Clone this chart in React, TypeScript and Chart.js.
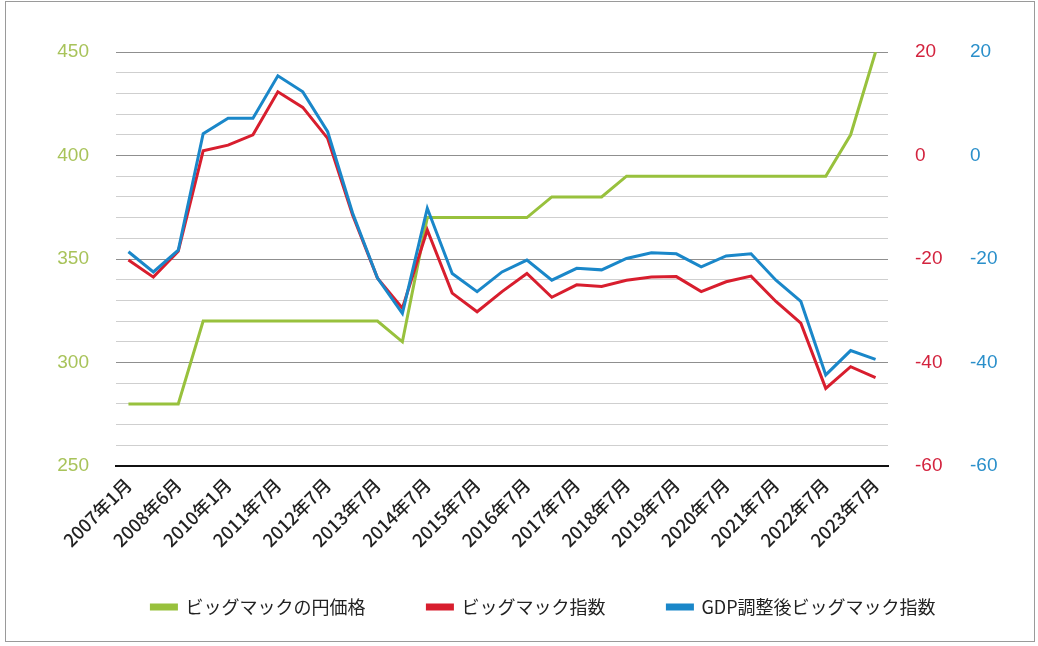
import React, { useEffect, useRef } from "react";
import { Chart, registerables } from "chart.js";

Chart.register(...registerables);

const categories = [
  "2007年1月", "2007年6月", "2008年6月", "2009年7月", "2010年1月", "2010年7月",
  "2011年7月", "2012年1月", "2012年7月", "2013年1月", "2013年7月", "2014年1月",
  "2014年7月", "2015年1月", "2015年7月", "2016年1月", "2016年7月", "2017年1月",
  "2017年7月", "2018年1月", "2018年7月", "2019年1月", "2019年7月", "2020年1月",
  "2020年7月", "2021年1月", "2021年7月", "2022年1月", "2022年7月", "2023年1月",
  "2023年7月",
];

const yenPrice = [
  280, 280, 280, 320, 320, 320, 320, 320, 320, 320, 320, 310, 370, 370, 370, 370,
  370, 380, 380, 380, 390, 390, 390, 390, 390, 390, 390, 390, 390, 410, 450,
];

const bigMacIndex = [
  -20.2, -23.5, -18.5, 0.9, 2.0, 4.0, 12.3, 9.3, 3.3, -11.5, -23.7, -29.5, -14.4,
  -26.6, -30.2, -26.3, -22.8, -27.4, -25.0, -25.3, -24.1, -23.5, -23.4, -26.3,
  -24.4, -23.3, -28.2, -32.4, -45.0, -40.8, -42.9,
];

const gdpAdjustedIndex = [
  -18.6, -22.5, -18.3, 4.2, 7.2, 7.2, 15.4, 12.3, 4.6, -11.1, -23.7, -30.5, -10.2,
  -22.8, -26.3, -22.5, -20.2, -24.1, -21.8, -22.1, -19.9, -18.8, -19.0, -21.5,
  -19.4, -19.0, -24.1, -28.2, -42.4, -37.7, -39.4,
];

const seriesNames = ["ビッグマックの円価格", "ビッグマック指数", "GDP調整後ビッグマック指数"];

const GREEN = "#98c13d";
const RED = "#d81e2e";
const BLUE = "#1a87c9";
const NUM_FONT = '"Liberation Sans", Arial, "Noto Sans CJK JP", sans-serif';
const JP_FONT = '"Noto Sans CJK JP", "Noto Sans", sans-serif';

// Legend placement tweaks: move the legend row right and up a little.
const LEGEND_SHIFT_X = 14;
const LEGEND_SHIFT_Y = 20;

const legendPlacement = {
  id: "legendPlacement",
  afterLayout(chart: any) {
    const lg = chart.legend;
    if (!lg) return;
    lg.left += LEGEND_SHIFT_X;
    lg.right += LEGEND_SHIFT_X;
    lg.top -= LEGEND_SHIFT_Y;
    lg.bottom -= LEGEND_SHIFT_Y;
  },
};

export default function App() {
  const ref = useRef<HTMLCanvasElement | null>(null);

  useEffect(() => {
    if (!ref.current) return;
    const chart = new Chart(ref.current, {
      type: "line",
      data: {
        labels: categories,
        datasets: [
          {
            label: seriesNames[0],
            data: yenPrice,
            borderColor: GREEN,
            backgroundColor: GREEN,
            borderWidth: 3,
            pointRadius: 0,
            tension: 0,
            yAxisID: "y",
            order: 2,
          },
          {
            label: seriesNames[1],
            data: bigMacIndex,
            borderColor: RED,
            backgroundColor: RED,
            borderWidth: 3,
            pointRadius: 0,
            tension: 0,
            yAxisID: "y1",
            order: 1,
          },
          {
            label: seriesNames[2],
            data: gdpAdjustedIndex,
            borderColor: BLUE,
            backgroundColor: BLUE,
            borderWidth: 3,
            pointRadius: 0,
            tension: 0,
            yAxisID: "y2",
            order: 0,
          },
        ],
      },
      options: {
        animation: false,
        responsive: true,
        maintainAspectRatio: false,
        layout: { padding: { left: 56, right: 35, top: 52, bottom: 0 } },
        plugins: {
          tooltip: { enabled: false },
          legend: {
            position: "bottom",
            labels: {
              font: { family: JP_FONT, size: 18 },
              color: "#222",
              boxWidth: 25,
              boxHeight: 4,
              padding: 62,
              sort: (a: any, b: any) => a.datasetIndex - b.datasetIndex,
            },
          },
        },
        scales: {
          x: {
            offset: true,
            grid: { display: false, drawTicks: false },
            border: { display: true, color: "#111", width: 2 },
            ticks: {
              autoSkip: false,
              minRotation: 45,
              maxRotation: 45,
              padding: 8,
              color: "#222",
              font: { family: JP_FONT, size: 18, weight: 500 },
              callback: (_v: any, i: number) => (i % 2 === 0 ? categories[i] : ""),
            },
            afterFit: (scale: any) => {
              scale.paddingLeft = 0;
              scale.paddingRight = 0;
              scale.height = 90;
            },
          },
          y: {
            position: "left",
            min: 250,
            max: 450,
            border: { display: false },
            grid: {
              drawTicks: false,
              lineWidth: 1,
              color: (ctx: any) =>
                ctx.tick && ctx.tick.value % 50 === 0 ? "#8f8f8f" : "#cfcfcf",
            },
            ticks: {
              stepSize: 10,
              autoSkip: false,
              padding: 27,
              color: "#a8c35a",
              font: { family: NUM_FONT, size: 19 },
              callback: (v: any) => (Number(v) % 50 === 0 ? String(v) : ""),
            },
            afterFit: (scale: any) => {
              scale.width = 60;
              scale.paddingTop = 0;
              scale.paddingBottom = 0;
            },
          },
          y1: {
            position: "right",
            min: -60,
            max: 20,
            border: { display: false },
            grid: { display: false, drawTicks: false },
            ticks: {
              stepSize: 20,
              autoSkip: false,
              padding: 27,
              color: "#d3233e",
              font: { family: NUM_FONT, size: 19 },
            },
            afterFit: (scale: any) => {
              scale.width = 55;
              scale.paddingTop = 0;
              scale.paddingBottom = 0;
            },
          },
          y2: {
            position: "right",
            min: -60,
            max: 20,
            border: { display: false },
            grid: { display: false, drawTicks: false },
            ticks: {
              stepSize: 20,
              autoSkip: false,
              padding: 27,
              color: "#2a8fca",
              font: { family: NUM_FONT, size: 19 },
            },
            afterFit: (scale: any) => {
              scale.width = 60;
              scale.paddingTop = 0;
              scale.paddingBottom = 0;
            },
          },
        },
      },
      plugins: [legendPlacement],
    });
    return () => chart.destroy();
  }, []);

  return (
    <div
      style={{
        position: "fixed",
        left: 0,
        top: 0,
        width: 1038,
        height: 646,
        background: "#fff",
      }}
    >
      <div
        style={{
          position: "absolute",
          left: 5,
          top: 1,
          width: 1030,
          height: 641,
          border: "1px solid #9a9a9a",
          boxSizing: "border-box",
        }}
      />
      <div style={{ position: "absolute", left: 0, top: 0, width: 1038, height: 646 }}>
        <canvas ref={ref} />
      </div>
    </div>
  );
}
